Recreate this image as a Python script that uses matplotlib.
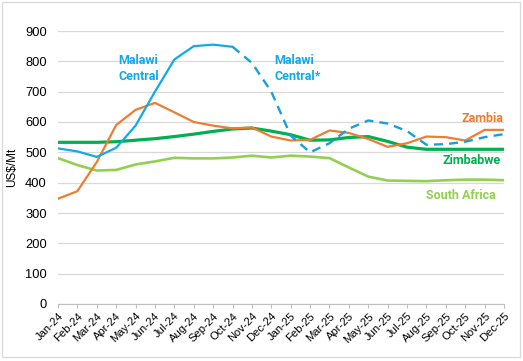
import matplotlib.pyplot as plt
import numpy as np
from matplotlib.patches import Rectangle

# months Jan-24 .. Dec-25
months = ['Jan-24', 'Feb-24', 'Mar-24', 'Apr-24', 'May-24', 'Jun-24', 'Jul-24', 'Aug-24',
          'Sep-24', 'Oct-24', 'Nov-24', 'Dec-24', 'Jan-25', 'Feb-25', 'Mar-25', 'Apr-25',
          'May-25', 'Jun-25', 'Jul-25', 'Aug-25', 'Sep-25', 'Oct-25', 'Nov-25', 'Dec-25']

nan = np.nan
# actual prices up to Oct-24
malawi = [513, 503, 485, 515, 588, 700, 806, 850, 855, 848] + [nan] * 14
# forecast part (dashed), joined at Oct-24
malawi_fc = [nan] * 9 + [848, 795, 700, 555, 500, 530, 578, 605, 595, 570, 525, 527, 535, 550, 560]
zambia = [347, 372, 468, 590, 640, 663, 632, 600, 588, 579, 582, 552, 539, 541, 572, 564,
          544, 518, 530, 552, 550, 539, 574, 574]
zimbabwe = [533, 533, 533, 535, 540, 545, 552, 560, 569, 577, 580, 570, 558, 540, 541, 549,
            552, 536, 517, 510, 510, 510, 510, 510]
south_africa = [481, 458, 440, 442, 460, 470, 482, 480, 480, 483, 489, 483, 489, 486, 481, 450,
                420, 407, 406, 405, 408, 410, 410, 408]

blue = '#12A9E8'
orange = '#ED7D31'
dgreen = '#00B050'
lgreen = '#92D050'

plt.rcParams['font.family'] = ['Liberation Sans', 'DejaVu Sans']

fig = plt.figure(figsize=(5.23, 3.61), dpi=100)
ax = fig.add_axes([58 / 523, 1 - 304 / 361, (504 - 58) / 523, (304 - 31) / 361])

x = np.arange(len(months))
ax.plot(x, south_africa, color=lgreen, lw=1.9, solid_capstyle='round')
ax.plot(x, zimbabwe, color=dgreen, lw=2.3, solid_capstyle='round')
ax.plot(x, zambia, color=orange, lw=1.6, solid_capstyle='round')
ax.plot(x, malawi, color=blue, lw=1.6, solid_capstyle='round')
ax.plot(x, malawi_fc, color='#1A9FDB', lw=1.7, linestyle=(0, (3.8, 2.6)))

ax.set_xlim(0, len(months) - 1)
ax.set_ylim(0, 900)
ax.set_yticks(range(0, 901, 100))
ax.set_xticks(x)
ax.set_xticklabels(months, rotation=45, ha='right', rotation_mode='anchor', fontsize=8.1)
ax.tick_params(axis='y', length=0, labelsize=9.3, pad=8)
ax.tick_params(axis='x', length=3, color='#BFBFBF', pad=2)
ax.grid(axis='y', color='#D9D9D9', lw=0.9)
ax.set_axisbelow(True)
for s in ['top', 'right', 'left']:
    ax.spines[s].set_visible(False)
ax.spines['bottom'].set_color('#BFBFBF')
ax.set_ylabel('US$/Mt', fontsize=8.5, labelpad=5)

lab = dict(fontsize=9, fontweight='bold', family=['Roboto', 'DejaVu Sans'])
ax.text(3.1, 775, 'Malawi\nCentral', color=blue, ha='left', va='center', linespacing=1.3, **lab)
ax.text(11.15, 775, 'Malawi\nCentral*', color=blue, ha='left', va='center', linespacing=1.3, **lab)
ax.text(22.95, 612, 'Zambia', color=orange, ha='right', va='center', **lab)
ax.text(22.85, 472, 'Zimbabwe', color=dgreen, ha='right', va='center', **lab)
ax.text(22.55, 357, 'South Africa', color=lgreen, ha='right', va='center', **lab)

fig.patches.append(Rectangle((2 / 523, 4 / 361), 518 / 523, 355 / 361, transform=fig.transFigure,
                             fill=False, edgecolor='#D9D9D9', lw=0.9))

plt.savefig('out.png', dpi=100)
